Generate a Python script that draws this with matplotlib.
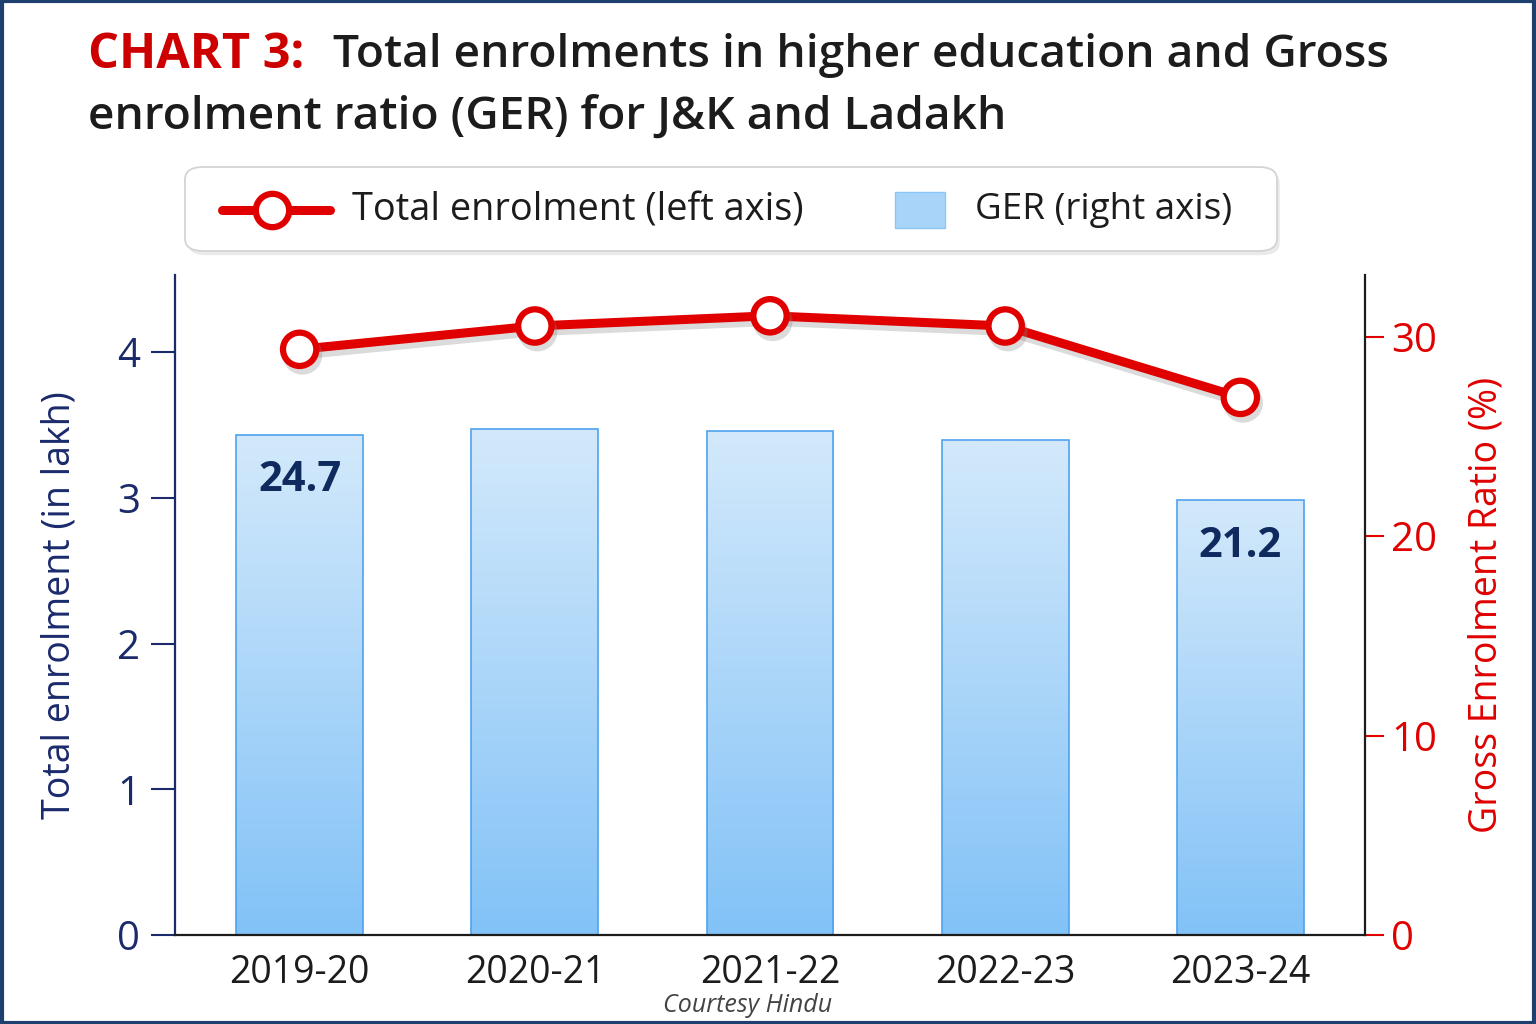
import matplotlib
matplotlib.use('Agg')
import matplotlib.pyplot as plt
import matplotlib.patches as mpatches
import matplotlib.patheffects as pe
from matplotlib.lines import Line2D
from matplotlib.colors import LinearSegmentedColormap
import numpy as np

plt.rcParams['font.family'] = ['Open Sans', 'Noto Sans', 'DejaVu Sans']

# --- Data ---
years = ['2019-20', '2020-21', '2021-22', '2022-23', '2023-24']
enrolment_lakh = [4.02, 4.18, 4.25, 4.18, 3.69]
ger_pct = [25.1, 25.4, 25.3, 24.8, 21.8]
ger_labels = ['24.7', '', '', '', '21.2']

NAVY = '#1b2a6b'
RED = '#e00000'
DARK = '#1c1c1c'

W, H = 1536, 1024
fig = plt.figure(figsize=(15.36, 10.24), dpi=100)
fig.patch.set_facecolor('white')


def fx(px):
    return px / W


def fy(py):
    return 1 - py / H


ax = fig.add_axes([fx(175), fy(935), fx(1365) - fx(175), fy(275) - fy(935)])
ax2 = ax.twinx()
ax.set_zorder(ax2.get_zorder() + 1)
ax.patch.set_visible(False)

x = np.arange(len(years))
xlim = (-0.53, 4.53)

# bars with vertical gradient, right axis
cmap = LinearSegmentedColormap.from_list('bar', ['#82c2f7', '#d3e9fb'])
grad = np.linspace(0, 1, 256).reshape(-1, 1)
bars = ax2.bar(x, ger_pct, width=0.54, color='none', edgecolor='#4ea3ef', linewidth=1.2, zorder=2)
for b in bars:
    x0, w, h = b.get_x(), b.get_width(), b.get_height()
    im = ax2.imshow(grad, extent=[x0, x0 + w, 0, h], origin='lower', aspect='auto',
                    cmap=cmap, zorder=1)
    im.set_clip_path(b)
ax2.set_xlim(*xlim)
ax2.set_ylim(0, 33.1)

for xi, v, lab in zip(x, ger_pct, ger_labels):
    if lab:
        ax2.text(xi, v - 1.3, lab, ha='center', va='top',
                 fontsize=30, fontweight='bold', color='#0f2a5e', zorder=5)

# line, left axis
ax.plot(x, enrolment_lakh, color=RED, lw=6.5, marker='o', ms=24, mfc='white',
        mec=RED, mew=4.5, solid_capstyle='round', zorder=4,
        path_effects=[pe.SimpleLineShadow(offset=(2, -4), shadow_color='#888888', alpha=0.3),
                      pe.Normal()])
ax.set_xlim(*xlim)
ax.set_ylim(0, 4.53)
ax.set_xticks(x)
ax.set_xticklabels(years, fontsize=27, color=DARK)
ax.tick_params(axis='x', length=0, pad=14)
ax.set_yticks([0, 1, 2, 3, 4])
ax.tick_params(axis='y', colors=NAVY, labelsize=29, length=17, width=1.5, pad=8)
ax.set_ylabel('Total enrolment (in lakh)', fontsize=27, color=NAVY, labelpad=28)

ax2.set_yticks([0, 10, 20, 30])
ax2.tick_params(axis='y', colors=RED, labelsize=29, length=14, width=1.5, pad=5)
ax2.set_ylabel('Gross Enrolment Ratio (%)', fontsize=27, color=RED, labelpad=22)

for a in (ax, ax2):
    a.spines['top'].set_visible(False)
ax.spines['left'].set_color(NAVY)
ax.spines['left'].set_linewidth(1.6)
ax2.spines['right'].set_color(DARK)
ax2.spines['right'].set_linewidth(1.6)
ax.spines['bottom'].set_color(DARK)
ax.spines['bottom'].set_linewidth(1.6)
ax2.spines['left'].set_visible(False)
ax2.spines['bottom'].set_visible(False)
ax.spines['right'].set_visible(False)

# title
fig.text(fx(88), fy(55), 'CHART 3:', fontsize=35, fontweight='bold', color='#cc0000',
         va='center', ha='left')
fig.text(fx(333), fy(55), 'Total enrolments in higher education and Gross', fontsize=33.2,
         fontweight='semibold', color=DARK, va='center', ha='left')
fig.text(fx(88), fy(117), 'enrolment ratio (GER) for J&K and Ladakh', fontsize=33.2,
         fontweight='semibold', color=DARK, va='center', ha='left')

# legend box (drawn by hand to match spacing)
box = mpatches.FancyBboxPatch((fx(185), fy(251)), fx(1277) - fx(185), fy(167) - fy(251),
                              boxstyle='round,pad=0,rounding_size=0.012',
                              transform=fig.transFigure, facecolor='white',
                              edgecolor='#d4d4d4', linewidth=1.3, zorder=3,
                              path_effects=[pe.SimplePatchShadow(offset=(2, -3), shadow_rgbFace='#bbbbbb', alpha=0.3),
                                            pe.Normal()])
fig.patches.append(box)
fig.lines.append(Line2D([fx(222), fx(330)], [fy(210), fy(210)], transform=fig.transFigure,
                        color=RED, lw=6.5, solid_capstyle='round', zorder=4))
fig.lines.append(Line2D([fx(272)], [fy(210)], transform=fig.transFigure, marker='o', ms=24,
                        mfc='white', mec=RED, mew=4.5, zorder=5))
fig.text(fx(352), fy(210), 'Total enrolment (left axis)', fontsize=27.3, color=DARK,
         va='center', ha='left', zorder=5)
fig.patches.append(mpatches.Rectangle((fx(895), fy(228)), fx(945) - fx(895), fy(192) - fy(228),
                                      transform=fig.transFigure, facecolor='#a8d4fa',
                                      edgecolor='#8cc6f7', linewidth=1, zorder=4))
fig.text(fx(975), fy(210), 'GER (right axis)', fontsize=26.5, color=DARK,
         va='center', ha='left', zorder=5)

fig.text(fx(748), fy(1005), 'Courtesy Hindu', fontsize=18, style='italic', color='#444444',
         ha='center', va='center')

# outer border
fig.patches.append(mpatches.Rectangle((0.001, 0.001), 0.998, 0.998, transform=fig.transFigure,
                                      fill=False, edgecolor='#1f3f6e', linewidth=3))

fig.savefig('out.png', dpi=100)
